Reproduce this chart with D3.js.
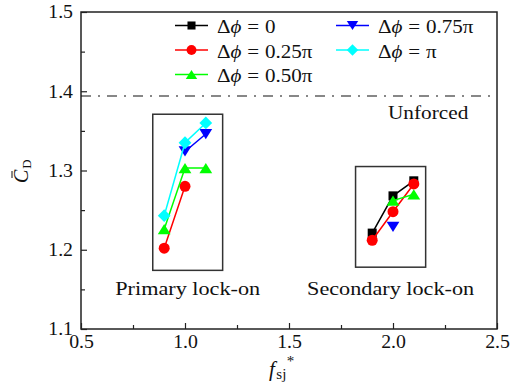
<!DOCTYPE html>
<html>
<head>
<meta charset="utf-8">
<script src="https://cdn.jsdelivr.net/npm/d3@7"></script>
<style>
  html, body { margin: 0; padding: 0; background: #fff; }
  svg { display: block; }
  text { font-family: "Liberation Serif", "DejaVu Serif", serif; fill: #111; }
</style>
</head>
<body>
<svg id="chart" width="510" height="392"></svg>
<script>
// Reduced frequency of the synthetic jet
const fsj = [0.9, 1.0, 1.1, 1.9, 2.0, 2.1];

// Mean drag coefficient for each phase difference (null = not measured)
const cdPhi000 = [null, null, null, 1.221, 1.268, 1.287];
const cdPhi025 = [1.202, 1.280, null, 1.212, 1.248, 1.283];
const cdPhi050 = [1.226, 1.303, 1.303, null, 1.262, 1.270];
const cdPhi075 = [null, 1.324, 1.346, null, 1.229, null];
const cdPhi100 = [1.243, 1.335, 1.360, null, null, null];

const seriesNames = ["0", "0.25π", "0.50π", "0.75π", "π"];
const seriesValues = [cdPhi000, cdPhi025, cdPhi050, cdPhi075, cdPhi100];

// Unforced cylinder drag
const cdUnforced = 1.394;

// Lock-on regions in data units
const regionNames = ["Primary lock-on", "Secondary lock-on"];
const regionX = [[0.845, 1.181], [1.82, 2.157]];
const regionY = [[1.174, 1.371], [1.178, 1.305]];

const xTicks = [0.5, 1.0, 1.5, 2.0, 2.5];
const yTicks = [1.1, 1.2, 1.3, 1.4, 1.5];

// ---- styling ----
const colors = ["#000000", "#ff0000", "#00ff00", "#0000ff", "#00ffff"];
const SX = 1.1;   // horizontal widening of tick labels
const SXL = 1.17; // horizontal widening of word labels
const FS = 18;

const svg = d3.select("#chart");
const M = { left: 81, right: 497, top: 12, bottom: 329 };

const x = d3.scaleLinear().domain([0.5, 2.5]).range([M.left, M.right]);
const y = d3.scaleLinear().domain([1.1, 1.5]).range([M.bottom, M.top]);

// custom marker shapes
const symSquare = { draw(c, s) { const h = Math.sqrt(s) / 2; c.rect(-h, -h, 2 * h, 2 * h); } };
const symCircle = { draw(c, s) { const r = Math.sqrt(s / Math.PI); c.moveTo(r, 0); c.arc(0, 0, r, 0, 2 * Math.PI); } };
const symTriUp = { draw(c, s) { const w = Math.sqrt(s) * 1.6 / 2, h = w * 0.8; c.moveTo(0, -h); c.lineTo(w, h); c.lineTo(-w, h); c.closePath(); } };
const symTriDown = { draw(c, s) { const w = Math.sqrt(s) * 1.6 / 2, h = w * 0.8; c.moveTo(0, h); c.lineTo(w, -h); c.lineTo(-w, -h); c.closePath(); } };
const symDiamond = { draw(c, s) { const r = Math.sqrt(s) * 0.8; c.moveTo(0, -r); c.lineTo(r, 0); c.lineTo(0, r); c.lineTo(-r, 0); c.closePath(); } };
const symbols = [symSquare, symCircle, symTriUp, symTriDown, symDiamond];
const symSizes = [81, 95, 64, 64, 64];

function wideText(parent, px, py, anchor, size, sx) {
  return parent.append("g")
    .attr("transform", `translate(${px},${py}) scale(${sx},1)`)
    .append("text")
    .attr("text-anchor", anchor)
    .attr("font-size", size);
}

// ---- axes ----
const yAxis = d3.axisLeft(y).tickValues(yTicks).tickFormat(d3.format(".1f"))
  .tickSizeInner(-6).tickSizeOuter(0).tickPadding(8);
const yMinor = d3.axisLeft(y).tickValues(d3.range(1.15, 1.5, 0.1)).tickFormat("")
  .tickSizeInner(-4).tickSizeOuter(0);
const xAxis = d3.axisBottom(x).tickValues(xTicks).tickFormat(d3.format(".1f"))
  .tickSizeInner(-6).tickSizeOuter(0).tickPadding(6);
const xMinor = d3.axisBottom(x).tickValues(d3.range(0.75, 2.5, 0.5)).tickFormat("")
  .tickSizeInner(-4).tickSizeOuter(0);

function styleAxis(g) {
  g.select(".domain").remove();
  g.selectAll(".tick line").attr("stroke", "#222").attr("stroke-width", 1.2);
  g.selectAll(".tick text").attr("font-family", "Liberation Serif").attr("font-size", FS)
    .attr("fill", "#111");
}
const gy = svg.append("g").attr("transform", `translate(${M.left},0)`).call(yAxis).call(styleAxis);
gy.selectAll(".tick text").attr("transform", `scale(${SX},1)`).attr("x", -8 / SX);
svg.append("g").attr("transform", `translate(${M.left},0)`).call(yMinor).call(styleAxis);
const gx = svg.append("g").attr("transform", `translate(0,${M.bottom})`).call(xAxis).call(styleAxis);
gx.selectAll(".tick text").attr("transform", `scale(${SX},1)`);
svg.append("g").attr("transform", `translate(0,${M.bottom})`).call(xMinor).call(styleAxis);

// plot frame
svg.append("rect")
  .attr("x", M.left).attr("y", M.top)
  .attr("width", M.right - M.left).attr("height", M.bottom - M.top)
  .attr("fill", "none").attr("stroke", "#222").attr("stroke-width", 1.5);

// unforced reference line
svg.append("line")
  .attr("x1", M.left).attr("x2", M.right)
  .attr("y1", y(cdUnforced)).attr("y2", y(cdUnforced))
  .attr("stroke", "#111").attr("stroke-width", 1.1)
  .attr("stroke-dasharray", "10,7,2,7");
wideText(svg, 388, y(cdUnforced) + 23, "start", FS + 1, SXL - 0.05).text("Unforced");

// lock-on regions
regionNames.forEach((name, i) => {
  const [x0, x1] = regionX[i], [y0, y1] = regionY[i];
  svg.append("rect")
    .attr("x", x(x0)).attr("y", y(y1))
    .attr("width", x(x1) - x(x0)).attr("height", y(y0) - y(y1))
    .attr("fill", "none").attr("stroke", "#333").attr("stroke-width", 1.5);
  wideText(svg, (x(x0) + x(x1)) / 2, 295, "middle", FS + 1, SXL).text(name);
});

// series: line + markers
const line = d3.line()
  .defined(d => d.v != null)
  .x(d => x(d.f)).y(d => y(d.v));

seriesValues.forEach((vals, i) => {
  const pts = fsj.map((f, j) => ({ f, v: vals[j] }));
  svg.append("path").datum(pts)
    .attr("d", line)
    .attr("fill", "none").attr("stroke", colors[i]).attr("stroke-width", 1.5);
  svg.append("g").selectAll("path")
    .data(pts.filter(d => d.v != null))
    .join("path")
    .attr("transform", d => `translate(${x(d.f)},${y(d.v)})`)
    .attr("d", d3.symbol(symbols[i], symSizes[i]))
    .attr("fill", colors[i]);
});

// legend
const legCols = [175, 336];
const legRows = [25.5, 50, 74.5];
seriesNames.forEach((name, i) => {
  const col = i < 3 ? 0 : 1, row = i < 3 ? i : i - 3;
  const lx = legCols[col], ly = legRows[row];
  const g = svg.append("g");
  g.append("line").attr("x1", lx).attr("x2", lx + 33).attr("y1", ly).attr("y2", ly)
    .attr("stroke", colors[i]).attr("stroke-width", 1.5);
  g.append("path").attr("transform", `translate(${lx + 16.5},${ly})`)
    .attr("d", d3.symbol(symbols[i], symSizes[i] * 0.8)).attr("fill", colors[i]);
  const t = wideText(svg, lx + 42, ly + 7.5, "start", FS, SXL);
  t.append("tspan").text("Δ");
  t.append("tspan").attr("font-style", "italic").text("ϕ");
  t.append("tspan").attr("dx", 5).text("=");
  t.append("tspan").attr("dx", 5).text(name);
});

// axis titles
const yl = svg.append("g").attr("transform", "translate(28,170) rotate(-90)");
const ylt = yl.append("text").attr("text-anchor", "start").attr("x", -13).attr("font-size", 20);
ylt.append("tspan").attr("font-style", "italic").text("C");
ylt.append("tspan").attr("dx", 1).attr("dy", 3).attr("font-size", 13).text("D");
yl.append("line").attr("x1", -8).attr("x2", -1).attr("y1", -16).attr("y2", -16)
  .attr("stroke", "#111").attr("stroke-width", 1);

const xl = svg.append("text").attr("x", 269).attr("y", 376).attr("font-size", 21);
xl.append("tspan").attr("font-style", "italic").text("f");
xl.append("tspan").attr("dx", 1.5).attr("dy", 3).attr("font-size", 15).text("sj");
xl.append("tspan").attr("dx", 0.5).attr("dy", -13).attr("font-size", 15).text("*");
</script>
</body>
</html>
